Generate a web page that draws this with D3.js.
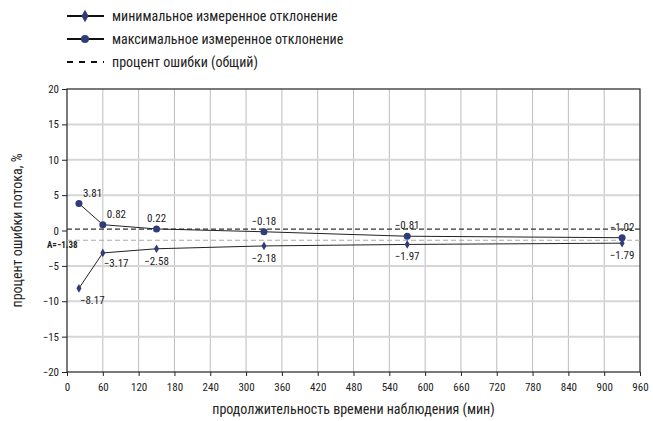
<!DOCTYPE html>
<html>
<head>
<meta charset="utf-8">
<script src="https://cdn.jsdelivr.net/npm/d3@7"></script>
<style>
  body { margin: 0; background: #fff; }
  svg text { font-family: "Liberation Sans Narrow", "Roboto Condensed", "Liberation Sans", sans-serif; fill: #222; }
</style>
</head>
<body>
<svg width="653" height="421"></svg>
<script>
// observation durations, minutes
const times = [20, 60, 150, 330, 570, 930];
const minDeviation = [-8.17, -3.17, -2.58, -2.18, -1.97, -1.79];
const maxDeviation = [3.81, 0.82, 0.22, -0.18, -0.81, -1.02];
const totalError = 0.2;
const average = -1.38;
const xTicks = d3.range(0, 961, 60);
const yTicks = [-20, -15, -10, -5, 0, 5, 10, 15, 20];
const legendLabels = [
    "минимальное измеренное отклонение",
    "максимальное измеренное отклонение",
    "процент ошибки (общий)"
];

var svg = d3.select("svg");
var margin = { left: 67, right: 13, top: 89, bottom: 49 };
var width = 653 - margin.left - margin.right;
var height = 421 - margin.top - margin.bottom;
var markColor = "#2f3c78";

var x = d3.scaleLinear().domain([0, 960]).range([0, width]);
var y = d3.scaleLinear().domain([-20, 20]).range([height, 0]);

var g = svg.append("g").attr("transform", `translate(${margin.left},${margin.top})`);

// grid
g.append("g").selectAll("line")
    .data(xTicks.slice(1, -1))
    .enter().append("line")
    .attr("x1", d => x(d)).attr("x2", d => x(d))
    .attr("y1", 0).attr("y2", height)
    .attr("stroke", "#bdbdbd").attr("stroke-width", 1);
g.append("g").selectAll("line")
    .data(yTicks.slice(1, -1).filter(d => d !== 0))
    .enter().append("line")
    .attr("x1", 0).attr("x2", width)
    .attr("y1", d => y(d)).attr("y2", d => y(d))
    .attr("stroke", "#d6d6d6").attr("stroke-width", 2);

// frame
g.append("rect")
    .attr("width", width).attr("height", height)
    .attr("fill", "none").attr("stroke", "#222").attr("stroke-width", 1.2);

// axes
var xAxis = g.append("g")
    .attr("transform", `translate(0,${height})`)
    .call(d3.axisBottom(x).tickValues(xTicks).tickSize(4).tickSizeOuter(0));
var yAxis = g.append("g")
    .call(d3.axisLeft(y).tickValues(yTicks).tickSize(5).tickSizeOuter(0)
        .tickFormat(d => d < 0 ? "\u2212" + Math.abs(d) : d));
[xAxis, yAxis].forEach(a => {
    a.select(".domain").remove();
    a.selectAll("line").attr("stroke", "#222");
    a.selectAll("text").attr("font-size", 11).style("font-family", null);
});
xAxis.selectAll("text").attr("dy", "1.05em");

// reference lines
g.append("line")
    .attr("x1", 0).attr("x2", width)
    .attr("y1", y(totalError)).attr("y2", y(totalError))
    .attr("stroke", "#333").attr("stroke-width", 1.2).attr("stroke-dasharray", "5,3");
g.append("line")
    .attr("x1", 0).attr("x2", width)
    .attr("y1", y(average)).attr("y2", y(average))
    .attr("stroke", "#aaa").attr("stroke-width", 1.2).attr("stroke-dasharray", "5,3");
g.append("text")
    .attr("x", -20).attr("y", y(average) + 8)
    .attr("font-size", 9).attr("font-weight", "bold")
    .text("A=\u22121.38");

var fmt = v => (v < 0 ? "\u2212" : "") + Math.abs(v).toFixed(2);

var line = d3.line().x(d => x(d[0])).y(d => y(d[1]));
var maxPts = times.map((t, i) => [t, maxDeviation[i]]);
var minPts = times.map((t, i) => [t, minDeviation[i]]);

g.append("path").datum(maxPts).attr("d", line)
    .attr("fill", "none").attr("stroke", "#222").attr("stroke-width", 1);
g.append("path").datum(minPts).attr("d", line)
    .attr("fill", "none").attr("stroke", "#222").attr("stroke-width", 1);

g.append("g").selectAll("circle")
    .data(maxPts)
    .enter().append("circle")
    .attr("cx", d => x(d[0])).attr("cy", d => y(d[1]))
    .attr("r", 3.5).attr("fill", markColor);

var diamond = d3.symbol().type(d3.symbolDiamond).size(22);
g.append("g").selectAll("path")
    .data(minPts)
    .enter().append("path")
    .attr("d", diamond)
    .attr("transform", d => `translate(${x(d[0])},${y(d[1])})`)
    .attr("fill", markColor);

// value labels
g.append("g").selectAll("text")
    .data(maxPts)
    .enter().append("text")
    .attr("x", (d, i) => x(d[0]) + (i < 2 ? 4 : 0))
    .attr("y", d => y(d[1]) - 7)
    .attr("text-anchor", (d, i) => i < 2 ? "start" : "middle")
    .attr("font-size", 11)
    .text(d => fmt(d[1]));
g.append("g").selectAll("text")
    .data(minPts)
    .enter().append("text")
    .attr("x", (d, i) => x(d[0]) + (i < 2 ? 1 : 0))
    .attr("y", (d, i) => y(d[1]) + (i === 1 ? 14 : 16))
    .attr("text-anchor", (d, i) => i < 2 ? "start" : "middle")
    .attr("font-size", 11)
    .text(d => fmt(d[1]));

// axis titles
svg.append("text")
    .attr("x", margin.left + width / 2).attr("y", 414)
    .attr("text-anchor", "middle").attr("font-size", 14)
    .text("продолжительность времени наблюдения (мин)");
svg.append("text")
    .attr("transform", `translate(22,${margin.top + height / 2}) rotate(-90)`)
    .attr("text-anchor", "middle").attr("font-size", 14)
    .text("процент ошибки потока, %");

// legend
var legend = svg.append("g").selectAll("g")
    .data(legendLabels)
    .enter().append("g")
    .attr("transform", (d, i) => `translate(0,${16 + i * 23})`);
legend.append("line")
    .attr("x1", 67).attr("x2", 104).attr("y1", 0).attr("y2", 0)
    .attr("stroke", "#111").attr("stroke-width", 1.8)
    .attr("stroke-dasharray", (d, i) => i === 2 ? "6,6" : null);
legend.filter((d, i) => i === 0).append("path")
    .attr("d", d3.symbol().type(d3.symbolDiamond).size(45))
    .attr("transform", "translate(85,0)").attr("fill", markColor);
legend.filter((d, i) => i === 1).append("circle")
    .attr("cx", 85).attr("cy", 0).attr("r", 4).attr("fill", markColor);
legend.append("text")
    .attr("x", 112).attr("y", 0).attr("dy", "0.35em")
    .attr("font-size", 14)
    .text(d => d);
</script>
</body>
</html>
